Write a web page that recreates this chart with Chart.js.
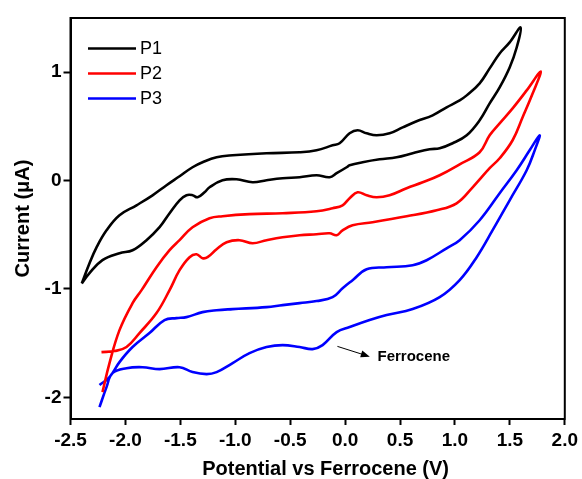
<!DOCTYPE html>
<html>
<head>
<meta charset="utf-8">
<script src="https://cdn.jsdelivr.net/npm/chart.js@4/dist/chart.umd.min.js"></script>
<style>
html,body{margin:0;padding:0;background:#fff;}
#wrap{width:582px;height:479px;position:relative;}
</style>
</head>
<body>
<div id="wrap"><canvas id="c" width="582" height="479"></canvas></div>
<script>
// ---- Data (potential in V vs Fc, current in µA) ----
const seriesNames = ['P1', 'P2', 'P3'];
const seriesColors = ['#000000', '#ff0000', '#0000ff'];

const p1Potential = [-2.397,-2.327,-2.263,-2.172,-2.054,-1.899,-1.753,-1.626,-1.507,-1.389,-1.298,-1.170,-1.024,-0.715,-0.414,-0.260,-0.114,-0.050,0.041,0.114,0.196,0.287,0.405,0.524,0.651,0.797,0.924,1.043,1.107,1.225,1.316,1.407,1.498,1.598,
  1.562,1.498,1.407,1.316,1.225,1.107,0.979,0.861,0.770,0.615,0.469,0.314,0.159,0.041,0.014,-0.077,-0.141,-0.260,-0.414,-0.569,-0.715,-0.842,-0.988,-1.116,-1.234,-1.280,-1.343,-1.389,-1.444,-1.507,-1.598,-1.689,-1.808,-1.935,-2.054,-2.209,-2.327,-2.397];
const p1Current = [-0.949,-0.763,-0.616,-0.459,-0.320,-0.228,-0.136,-0.043,0.040,0.123,0.169,0.215,0.233,0.252,0.261,0.279,0.325,0.344,0.436,0.464,0.436,0.418,0.436,0.491,0.547,0.602,0.676,0.740,0.786,0.897,1.035,1.173,1.275,1.413,
  1.228,1.044,0.860,0.712,0.556,0.418,0.344,0.298,0.289,0.252,0.215,0.196,0.169,0.141,0.123,0.068,0.031,0.049,0.031,0.021,0.003,-0.016,0.012,0.003,-0.062,-0.108,-0.154,-0.135,-0.135,-0.182,-0.301,-0.430,-0.550,-0.643,-0.670,-0.734,-0.854,-0.949];

const p2Potential = [-2.218,-2.099,-1.990,-1.872,-1.717,-1.598,-1.507,-1.416,-1.353,-1.298,-1.252,-1.170,-1.079,-0.961,-0.842,-0.715,-0.569,-0.414,-0.260,-0.141,-0.077,-0.023,0.068,0.250,0.560,0.833,1.015,1.161,1.316,1.407,1.525,1.616,1.708,1.781,
  1.653,1.525,1.407,1.316,1.225,1.043,0.861,0.706,0.560,0.405,0.287,0.196,0.114,0.041,-0.023,-0.114,-0.260,-0.569,-0.870,-1.116,-1.234,-1.389,-1.507,-1.598,-1.717,-1.853,-1.935,-2.054,-2.145,-2.209];
const p2Current = [-1.583,-1.573,-1.536,-1.407,-1.223,-1.011,-0.827,-0.707,-0.680,-0.716,-0.707,-0.633,-0.569,-0.550,-0.578,-0.550,-0.523,-0.504,-0.495,-0.486,-0.504,-0.459,-0.413,-0.385,-0.330,-0.274,-0.210,-0.062,0.114,0.206,0.372,0.584,0.805,1.007,
  0.832,0.666,0.528,0.418,0.261,0.150,0.049,-0.016,-0.071,-0.136,-0.154,-0.136,-0.108,-0.163,-0.228,-0.255,-0.283,-0.301,-0.310,-0.329,-0.348,-0.431,-0.550,-0.642,-0.799,-1.011,-1.131,-1.380,-1.684,-1.952];

const p3Potential = [-2.236,-2.145,-2.054,-1.935,-1.781,-1.644,-1.535,-1.444,-1.298,-1.170,-1.024,-0.715,-0.569,-0.414,-0.260,-0.114,-0.023,0.068,0.196,0.378,0.615,0.742,0.924,1.043,1.225,1.407,1.562,1.680,1.771,
  1.726,1.653,1.498,1.343,1.198,1.043,0.861,0.615,0.378,0.223,0.041,-0.077,-0.205,-0.296,-0.414,-0.569,-0.715,-0.870,-1.024,-1.170,-1.261,-1.389,-1.507,-1.689,-1.844,-1.990,-2.118,-2.172,-2.236];
const p3Current = [-1.887,-1.813,-1.675,-1.536,-1.407,-1.287,-1.269,-1.260,-1.214,-1.196,-1.186,-1.168,-1.149,-1.131,-1.112,-1.076,-0.993,-0.919,-0.818,-0.800,-0.781,-0.735,-0.625,-0.550,-0.366,-0.117,0.095,0.279,0.418,
  0.279,0.095,-0.182,-0.458,-0.707,-0.919,-1.076,-1.186,-1.241,-1.287,-1.352,-1.398,-1.518,-1.555,-1.536,-1.518,-1.536,-1.592,-1.684,-1.767,-1.786,-1.767,-1.722,-1.740,-1.722,-1.731,-1.777,-1.906,-2.090];

const xTickValues = [-2.5,-2.0,-1.5,-1.0,-0.5,0.0,0.5,1.0,1.5,2.0];
const yTickValues = [-2,-1,0,1];
const xTitle = 'Potential vs Ferrocene (V)';
const yTitle = 'Current (\u03bcA)';
const noteText = 'Ferrocene';
const noteArrowFrom = [-0.07, -1.53];
const noteArrowTo = [0.225, -1.625];
const noteTextAt = [0.295, -1.63];

// ---- Build ----
const FONT = "'Liberation Sans', Arial, Helvetica, sans-serif";
const allPotential = [p1Potential, p2Potential, p3Potential];
const allCurrent = [p1Current, p2Current, p3Current];

const datasets = seriesNames.map((name, i) => ({
  label: name,
  data: allPotential[i].map((v, k) => ({x: v, y: allCurrent[i][k]})),
  showLine: true,
  borderColor: seriesColors[i],
  backgroundColor: seriesColors[i],
  borderWidth: 2.6,
  pointRadius: 0,
  pointHoverRadius: 0,
  tension: 0.4,
  fill: false
}));

const overlay = {
  id: 'overlay',
  afterDraw(chart) {
    const {ctx, chartArea: a, scales: {x, y}} = chart;
    ctx.save();
    // frame
    ctx.strokeStyle = '#000';
    ctx.lineWidth = 2;
    ctx.strokeRect(a.left, a.top, a.right - a.left, a.bottom - a.top);

    // legend
    ctx.font = '18px ' + FONT;
    ctx.textAlign = 'left';
    ctx.textBaseline = 'middle';
    seriesNames.forEach((name, i) => {
      const yy = 48.5 + 25 * i;
      ctx.strokeStyle = seriesColors[i];
      ctx.lineWidth = 2.6;
      ctx.beginPath();
      ctx.moveTo(88, yy);
      ctx.lineTo(136, yy);
      ctx.stroke();
      ctx.fillStyle = '#000';
      ctx.fillText(name, 140, yy + 1);
    });

    // annotation arrow
    const x0 = x.getPixelForValue(noteArrowFrom[0]), y0 = y.getPixelForValue(noteArrowFrom[1]);
    const x1 = x.getPixelForValue(noteArrowTo[0]), y1 = y.getPixelForValue(noteArrowTo[1]);
    const ang = Math.atan2(y1 - y0, x1 - x0);
    ctx.strokeStyle = '#000';
    ctx.fillStyle = '#000';
    ctx.lineWidth = 1;
    ctx.beginPath();
    ctx.moveTo(x0, y0);
    ctx.lineTo(x1 - 6 * Math.cos(ang), y1 - 6 * Math.sin(ang));
    ctx.stroke();
    ctx.beginPath();
    ctx.moveTo(x1, y1);
    ctx.lineTo(x1 - 9 * Math.cos(ang) + 3.5 * Math.sin(ang), y1 - 9 * Math.sin(ang) - 3.5 * Math.cos(ang));
    ctx.lineTo(x1 - 9 * Math.cos(ang) - 3.5 * Math.sin(ang), y1 - 9 * Math.sin(ang) + 3.5 * Math.cos(ang));
    ctx.closePath();
    ctx.fill();
    ctx.font = 'bold 15px ' + FONT;
    ctx.textAlign = 'left';
    ctx.textBaseline = 'middle';
    ctx.fillText(noteText, x.getPixelForValue(noteTextAt[0]), y.getPixelForValue(noteTextAt[1]));

    // x axis title
    ctx.font = 'bold 20px ' + FONT;
    ctx.textAlign = 'center';
    ctx.textBaseline = 'alphabetic';
    ctx.fillText(xTitle, (a.left + a.right) / 2 + 8, 475);
    ctx.restore();
  }
};

new Chart(document.getElementById('c'), {
  type: 'scatter',
  data: {datasets},
  options: {
    responsive: false,
    animation: false,
    devicePixelRatio: 1,
    layout: {padding: {top: 18, right: 16.5, left: 0, bottom: 0}},
    plugins: {legend: {display: false}, tooltip: {enabled: false}},
    scales: {
      x: {
        type: 'linear',
        min: -2.5, max: 2.0,
        afterBuildTicks: s => { s.ticks = xTickValues.map(v => ({value: v})); },
        afterFit: s => { s.height = 60; },
        ticks: {
          callback: v => Number(v).toFixed(1),
          font: {family: FONT, size: 19, weight: 'bold'},
          color: '#000', padding: 4, maxRotation: 0, autoSkip: false
        },
        grid: {display: true, drawOnChartArea: false, drawTicks: true, tickLength: 6, tickWidth: 2, tickColor: '#000', color: '#000'},
        border: {display: true, color: '#000', width: 2},
        title: {display: false}
      },
      y: {
        type: 'linear',
        min: -2.2, max: 1.5,
        afterBuildTicks: s => { s.ticks = yTickValues.map(v => ({value: v})); },
        afterFit: s => { s.width = 70.5; },
        ticks: {
          callback: v => Number(v).toFixed(0),
          font: {family: FONT, size: 19, weight: 'bold'},
          color: '#000', padding: 2
        },
        grid: {display: true, drawOnChartArea: false, drawTicks: true, tickLength: 7, tickWidth: 2, tickColor: '#000', color: '#000'},
        border: {display: true, color: '#000', width: 2},
        title: {display: true, text: yTitle, font: {family: FONT, size: 20, weight: 'bold'}, color: '#000', padding: {top: 11, bottom: 0}}
      }
    }
  },
  plugins: [overlay]
});
</script>
</body>
</html>
